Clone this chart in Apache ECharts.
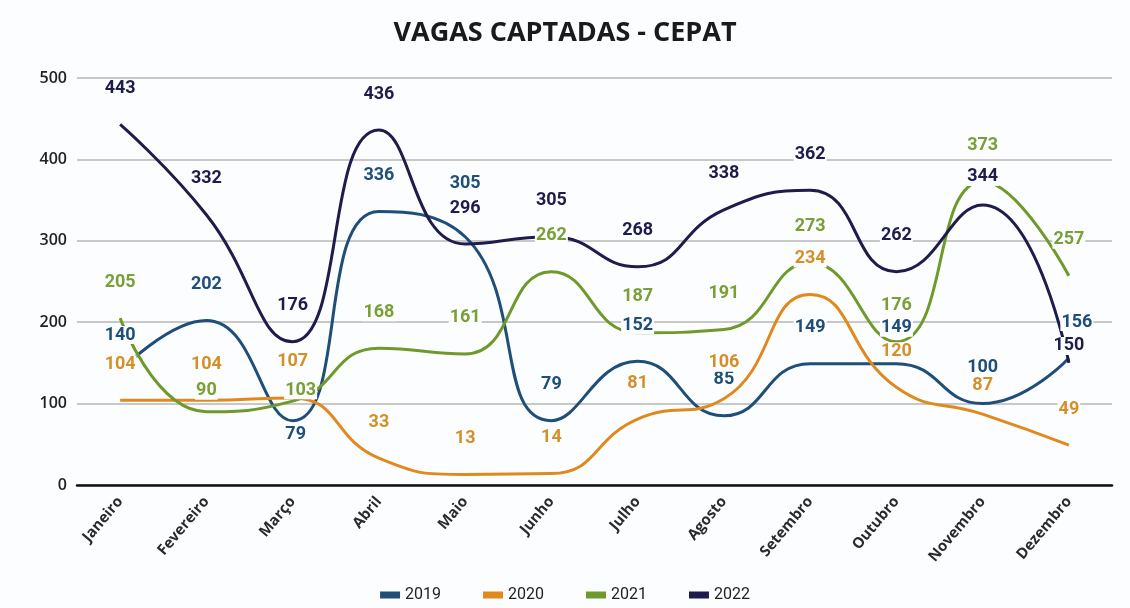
<!DOCTYPE html>
<html lang="pt">

<head>
    <meta charset="UTF-8">
    <title>Vagas captadas - CEPAT</title>
    <style>
        body { margin: 0; background: #fcfdfe; }
        #chart { width: 1130px; height: 608px; }
    </style>
</head>

<body>
    <div id="chart"></div>

    <script src="https://cdn.jsdelivr.net/npm/echarts@6/dist/echarts.min.js"></script>
    <script>
        const meses = ['Janeiro', 'Fevereiro', 'Março', 'Abril', 'Maio', 'Junho',
            'Julho', 'Agosto', 'Setembro', 'Outubro', 'Novembro', 'Dezembro'];

        const anos = ['2019', '2020', '2021', '2022'];

        const v2019 = [140, 202, 79, 336, 305, 79, 152, 85, 149, 149, 100, 156];
        const v2020 = [104, 104, 107, 33, 13, 14, 81, 106, 234, 120, 87, 49];
        const v2021 = [205, 90, 103, 168, 161, 262, 187, 191, 273, 176, 373, 257];
        const v2022 = [443, 332, 176, 436, 296, 305, 268, 338, 362, 262, 344, 150];

        const cores = ['#1f4e79', '#e08a1e', '#6f9a2b', '#1f1b4d'];
        const coresRotulo = ['#1f4e79', '#d49028', '#7a9f35', '#1f1b4d'];

        // deslocamento dos rótulos (centro do texto em relação ao ponto)
        const padrao = [0, -36];
        const ajustes = {
            '2019': { 2: [3, 14], 4: [0, -53], 11: [8, -36] },
            '2020': { 10: [0, -29] },
            '2021': { 1: [0, -21], 2: [8, -11] },
            '2022': { 10: [0, -28], 11: [0, -17] }
        };

        const valores = [v2019, v2020, v2021, v2022];

        const series = anos.map(function (ano, i) {
            return {
                name: ano,
                type: 'line',
                smooth: 0.5,
                symbol: 'circle',
                symbolSize: 0,
                lineStyle: { color: cores[i], width: 3 },
                itemStyle: { color: cores[i] },
                label: {
                    show: true,
                    position: 'inside',
                    color: coresRotulo[i],
                    fontFamily: 'Roboto',
                    fontWeight: 'bold',
                    fontSize: 18,
                    backgroundColor: '#fcfdfe',
                    padding: [0, 1]
                },
                data: valores[i].map(function (v, j) {
                    const off = (ajustes[ano] && ajustes[ano][j]) || padrao;
                    return { value: v, label: { offset: off } };
                })
            };
        });

        const myChart = echarts.init(document.getElementById('chart'));

        const option = {
            backgroundColor: '#fcfdfe',
            color: cores,
            title: {
                text: 'VAGAS CAPTADAS - CEPAT',
                left: 'center',
                top: 15,
                textStyle: {
                    fontFamily: 'Open Sans',
                    fontWeight: 'bold',
                    fontSize: 27,
                    color: '#1a1a1a'
                }
            },
            legend: {
                data: anos,
                bottom: 0,
                left: 'center',
                icon: 'rect',
                itemWidth: 20,
                itemHeight: 7,
                itemGap: 42,
                textStyle: {
                    fontFamily: 'Roboto',
                    fontSize: 16,
                    color: '#222'
                }
            },
            grid: {
                left: 77,
                right: 18,
                top: 78,
                bottom: 123
            },
            xAxis: {
                type: 'category',
                data: meses,
                boundaryGap: true,
                axisLine: { lineStyle: { color: '#111', width: 2.5 } },
                axisTick: { show: false },
                axisLabel: {
                    rotate: 50,
                    margin: 14,
                    fontFamily: 'Open Sans',
                    fontWeight: 'bold',
                    fontSize: 15,
                    color: '#2a2a2a'
                }
            },
            yAxis: {
                type: 'value',
                min: 0,
                max: 500,
                interval: 100,
                axisLine: { show: false },
                axisTick: { show: false },
                axisLabel: {
                    fontFamily: 'Open Sans',
                    fontWeight: 600,
                    fontSize: 16,
                    color: '#222',
                    margin: 10
                },
                splitLine: { lineStyle: { color: '#c8c8c8', width: 2 } }
            },
            series: series
        };

        myChart.setOption(option);
    </script>
</body>

</html>
